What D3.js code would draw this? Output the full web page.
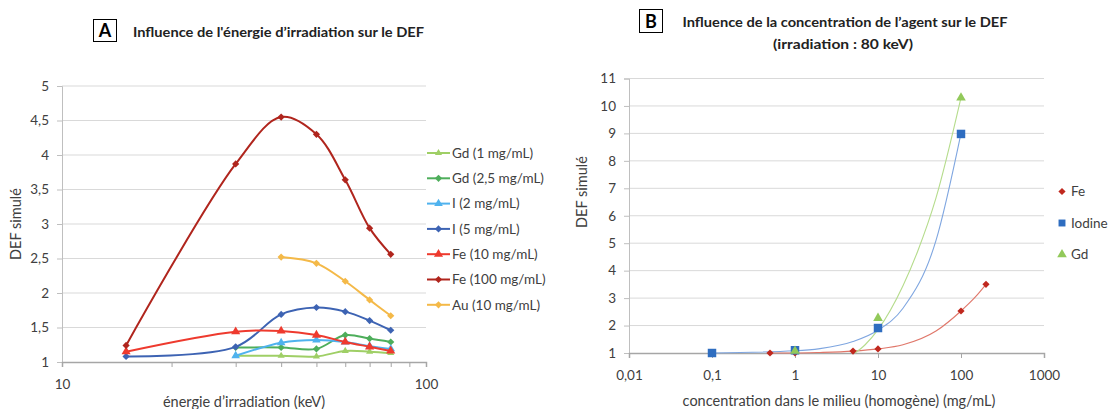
<!DOCTYPE html>
<html>
<head>
<meta charset="utf-8">
<script src="https://cdn.jsdelivr.net/npm/d3@7"></script>
<style>
  body { margin: 0; background: #fff; }
  svg text { font-family: Lato, "Open Sans", sans-serif; }
</style>
</head>
<body>
<div id="chart"></div>
<script>
// ---- data ----
// chart A: energy (keV) vs simulated DEF
const energyKeV = [15, 30, 40, 50, 60, 70, 80];
const gd1   = [null, 1.09, 1.09, 1.08, 1.16, 1.15, 1.13];
const gd25  = [null, 1.21, 1.21, 1.19, 1.39, 1.34, 1.29];
const i2    = [null, 1.09, 1.28, 1.32, 1.29, 1.23, 1.19];
const i5    = [1.08, 1.22, 1.69, 1.79, 1.73, 1.60, 1.46];
const fe10  = [1.15, 1.44, 1.45, 1.39, 1.29, 1.22, 1.16];
const fe100 = [1.24, 3.87, 4.55, 4.30, 3.64, 2.94, 2.56];
const au10  = [null, null, 2.52, 2.43, 2.17, 1.90, 1.67];
const seriesNamesA = ["Gd (1 mg/mL)", "Gd (2,5 mg/mL)", "I (2 mg/mL)", "I (5 mg/mL)",
                      "Fe (10 mg/mL)", "Fe (100 mg/mL)", "Au (10 mg/mL)"];
const yTicksA = [1, 1.5, 2, 2.5, 3, 3.5, 4, 4.5, 5];
const xTicksA = [10, 20, 30, 40, 50, 60, 70, 80, 90, 100];

// chart B: concentration (mg/mL) vs simulated DEF at 80 keV
const concFe = [0.5, 1, 5, 10, 100, 200];
const defFe  = [1.0, 1.0, 1.07, 1.15, 2.53, 3.5];
const concIodine = [0.1, 1, 10, 100];
const defIodine  = [1.0, 1.1, 1.91, 8.98];
const concGd = [1, 10, 100];
const defGd  = [1.07, 2.27, 10.3];
// trend curves
const trendFeConc = [0.5, 1, 2, 5, 10, 20, 50, 100, 150, 200];
const trendFeDef  = [1.0, 1.0, 1.02, 1.07, 1.15, 1.3, 1.8, 2.53, 3.05, 3.5];
const trendIodineConc = [0.1, 1, 2, 5, 10, 20, 50, 100];
const trendIodineDef  = [1.0, 1.08, 1.16, 1.42, 1.83, 2.63, 5.1, 9.0];
const trendGdConc = [5.3, 7, 10, 20, 30, 50, 100];
const trendGdDef  = [1.0, 1.3, 1.85, 3.45, 4.7, 6.65, 10.3];
const seriesNamesB = ["Fe", "Iodine", "Gd"];
const yTicksB = [1, 2, 3, 4, 5, 6, 7, 8, 9, 10, 11];
const xTicksB = [0.01, 0.1, 1, 10, 100, 1000];

const width = 1115, height = 409;
const gridColour = "#D9D9D9";
const axisColour = "#BFBFBF";
const textColour = "#404040";

const svg = d3.select("#chart").append("svg")
    .attr("width", width)
    .attr("height", height);
svg.append("rect").attr("width", width).attr("height", height).attr("fill", "#fff");

const fmt = d => String(d).replace(".", ",");

// marker helpers
const diamond = size => d3.symbol().type(d3.symbolSquare).size(size);
const triangle = size => d3.symbol().type(d3.symbolTriangle).size(size);
const square = size => d3.symbol().type(d3.symbolSquare).size(size);

function drawMarker(g, x, y, m) {
    g.append("path")
        .attr("d", m.sym())
        .attr("transform", `translate(${x},${y})` + (m.rot ? " rotate(45)" : ""))
        .attr("fill", m.colour);
}

// ================= Chart A =================
const xA = d3.scaleLog().domain([10, 100]).range([62, 426]);
const yA = d3.scaleLinear().domain([1, 5]).range([362, 86]);
const gA = svg.append("g");

// gridlines
gA.append("g").selectAll("line")
    .data(yTicksA.filter(d => d > 1))
    .join("line")
    .attr("x1", xA.range()[0]).attr("x2", xA.range()[1])
    .attr("y1", d => yA(d)).attr("y2", d => yA(d))
    .attr("stroke", gridColour).attr("stroke-width", 1);

const yAxisA = d3.axisLeft(yA).tickValues(yTicksA).tickFormat(fmt).tickSize(5).tickPadding(8);
const yAxisGroupA = gA.append("g")
    .attr("transform", `translate(${xA.range()[0]},0)`)
    .call(yAxisA);
yAxisGroupA.select(".domain").attr("stroke", axisColour);
yAxisGroupA.selectAll(".tick line").attr("stroke", axisColour);
yAxisGroupA.selectAll(".tick text").attr("fill", textColour).style("font-size", "13.5px");

const xAxisA = d3.axisBottom(xA).tickValues(xTicksA)
    .tickFormat(d => (d === 10 || d === 100) ? d : "").tickSize(5).tickPadding(12);
const xAxisGroupA = gA.append("g")
    .attr("transform", `translate(0,${yA.range()[0]})`)
    .call(xAxisA);
xAxisGroupA.select(".domain").attr("stroke", "#A6A6A6").attr("stroke-width", 1.5);
xAxisGroupA.selectAll(".tick line").attr("stroke", "#A6A6A6");
xAxisGroupA.selectAll(".tick text").attr("fill", textColour).style("font-size", "13.5px");

// axis titles
gA.append("text")
    .attr("transform", `translate(21,${(yA.range()[0] + yA.range()[1]) / 2}) rotate(-90)`)
    .attr("text-anchor", "middle")
    .attr("fill", textColour)
    .style("font-size", "14.5px")
    .text("DEF simulé");
gA.append("text")
    .attr("x", 244).attr("y", 407)
    .attr("text-anchor", "middle")
    .attr("fill", textColour)
    .style("font-size", "14.5px")
    .text("énergie d’irradiation (keV)");

// title with boxed letter
gA.append("rect").attr("x", 93.5).attr("y", 19.5).attr("width", 23).attr("height", 22)
    .attr("fill", "#fff").attr("stroke", "#000");
gA.append("text").attr("x", 105).attr("y", 37).attr("text-anchor", "middle")
    .style("font-size", "18px").style("font-weight", "bold").attr("fill", "#000").text("A");
gA.append("text").attr("x", 133).attr("y", 36.5)
    .attr("textLength", 291).attr("lengthAdjust", "spacingAndGlyphs")
    .style("font-size", "13.5px").style("font-weight", "bold").attr("fill", "#222")
    .text("Influence de l'énergie d’irradiation sur le DEF");

const styleA = [
    {colour: "#9FCF66", sym: triangle(22), rot: false},
    {colour: "#4EAE5B", sym: diamond(26), rot: true},
    {colour: "#4FB2EE", sym: triangle(32), rot: false},
    {colour: "#3D63B3", sym: diamond(26), rot: true},
    {colour: "#EE3A2E", sym: triangle(36), rot: false},
    {colour: "#B0251D", sym: diamond(26), rot: true},
    {colour: "#F4B948", sym: diamond(26), rot: true}
];
const valuesA = [gd1, gd25, i2, i5, fe10, fe100, au10];

const lineA = d3.line()
    .x(d => xA(d.x))
    .y(d => yA(d.y))
    .curve(d3.curveCatmullRom.alpha(0.5));

valuesA.forEach((vals, k) => {
    const pts = energyKeV.map((e, i) => ({x: e, y: vals[i]})).filter(d => d.y !== null);
    gA.append("path")
        .datum(pts)
        .attr("d", lineA)
        .attr("fill", "none")
        .attr("stroke", styleA[k].colour)
        .attr("stroke-width", 2);
    const mg = gA.append("g");
    pts.forEach(p => drawMarker(mg, xA(p.x), yA(p.y), styleA[k]));
});

// legend A
const legendA = gA.append("g");
seriesNamesA.forEach((name, k) => {
    const yy = 153 + k * 25.3;
    legendA.append("line").attr("x1", 427).attr("x2", 450).attr("y1", yy).attr("y2", yy)
        .attr("stroke", styleA[k].colour).attr("stroke-width", 2);
    drawMarker(legendA, 438.5, yy, styleA[k]);
    legendA.append("text").attr("x", 452).attr("y", yy).attr("dy", "0.35em")
        .attr("fill", textColour).style("font-size", "13.5px").text(name);
});

// ================= Chart B =================
const xB = d3.scaleLog().domain([0.01, 1000]).range([629, 1044]);
const yB = d3.scaleLinear().domain([1, 11]).range([353, 78.5]);
const gB = svg.append("g");

gB.append("g").selectAll("line")
    .data(yTicksB.filter(d => d > 1))
    .join("line")
    .attr("x1", xB.range()[0]).attr("x2", xB.range()[1])
    .attr("y1", d => yB(d)).attr("y2", d => yB(d))
    .attr("stroke", gridColour).attr("stroke-width", 1);

const yAxisB = d3.axisLeft(yB).tickValues(yTicksB).tickFormat(fmt).tickSize(5).tickPadding(8);
const yAxisGroupB = gB.append("g")
    .attr("transform", `translate(${xB.range()[0]},0)`)
    .call(yAxisB);
yAxisGroupB.select(".domain").attr("stroke", axisColour);
yAxisGroupB.selectAll(".tick line").attr("stroke", axisColour);
yAxisGroupB.selectAll(".tick text").attr("fill", textColour).style("font-size", "13.5px");

const xAxisB = d3.axisBottom(xB).tickValues(xTicksB).tickFormat(fmt).tickSize(5).tickPadding(12);
const xAxisGroupB = gB.append("g")
    .attr("transform", `translate(0,${yB.range()[0]})`)
    .call(xAxisB);
xAxisGroupB.select(".domain").attr("stroke", "#A6A6A6").attr("stroke-width", 1.5);
xAxisGroupB.selectAll(".tick line").attr("stroke", "#A6A6A6");
xAxisGroupB.selectAll(".tick text").attr("fill", textColour).style("font-size", "13.5px");

gB.append("text")
    .attr("transform", `translate(587,192) rotate(-90)`)
    .attr("text-anchor", "middle")
    .attr("fill", textColour)
    .style("font-size", "14.5px")
    .text("DEF simulé");
gB.append("text")
    .attr("x", 839).attr("y", 406)
    .attr("text-anchor", "middle")
    .attr("fill", textColour)
    .style("font-size", "14.5px")
    .text("concentration dans le milieu (homogène) (mg/mL)");

gB.append("rect").attr("x", 639.5).attr("y", 9.5).attr("width", 23).attr("height", 23)
    .attr("fill", "#fff").attr("stroke", "#000");
gB.append("text").attr("x", 651).attr("y", 27.5).attr("text-anchor", "middle")
    .style("font-size", "18px").style("font-weight", "bold").attr("fill", "#000").text("B");
gB.append("text").attr("x", 845).attr("y", 27).attr("text-anchor", "middle")
    .attr("textLength", 325).attr("lengthAdjust", "spacingAndGlyphs")
    .style("font-size", "13.5px").style("font-weight", "bold").attr("fill", "#222")
    .text("Influence de la concentration de l’agent sur le DEF");
gB.append("text").attr("x", 843).attr("y", 49).attr("text-anchor", "middle")
    .attr("textLength", 140).attr("lengthAdjust", "spacingAndGlyphs")
    .style("font-size", "13.5px").style("font-weight", "bold").attr("fill", "#222")
    .text("(irradiation : 80 keV)");

const styleB = [
    {colour: "#C0281E", trend: "#E0776A", sym: diamond(26), rot: true},
    {colour: "#2E6DC0", trend: "#7FA6E0", sym: square(72), rot: false},
    {colour: "#92C95A", trend: "#B5DC8C", sym: triangle(40), rot: false}
];
const pointsB = [[concFe, defFe], [concIodine, defIodine], [concGd, defGd]];
const trendsB = [[trendFeConc, trendFeDef], [trendIodineConc, trendIodineDef], [trendGdConc, trendGdDef]];

const lineB = d3.line()
    .x(d => xB(d.x))
    .y(d => yB(d.y))
    .curve(d3.curveMonotoneX);

trendsB.forEach(([cs, vs], k) => {
    gB.append("path")
        .datum(cs.map((c, i) => ({x: c, y: vs[i]})))
        .attr("d", lineB)
        .attr("fill", "none")
        .attr("stroke", styleB[k].trend)
        .attr("stroke-width", 1.1);
});
pointsB.forEach(([cs, vs], k) => {
    const mg = gB.append("g");
    cs.forEach((c, i) => drawMarker(mg, xB(c), yB(vs[i]), styleB[k]));
});

// legend B (smaller square in the legend)
const legendStyleB = [styleB[0], {colour: styleB[1].colour, sym: square(48), rot: false}, styleB[2]];
const legendB = gB.append("g");
seriesNamesB.forEach((name, k) => {
    const yy = 191.5 + k * 31.5;
    drawMarker(legendB, 1062, yy, legendStyleB[k]);
    legendB.append("text").attr("x", 1071).attr("y", yy).attr("dy", "0.35em")
        .attr("fill", textColour).style("font-size", "13.5px").text(name);
});
</script>
</body>
</html>
